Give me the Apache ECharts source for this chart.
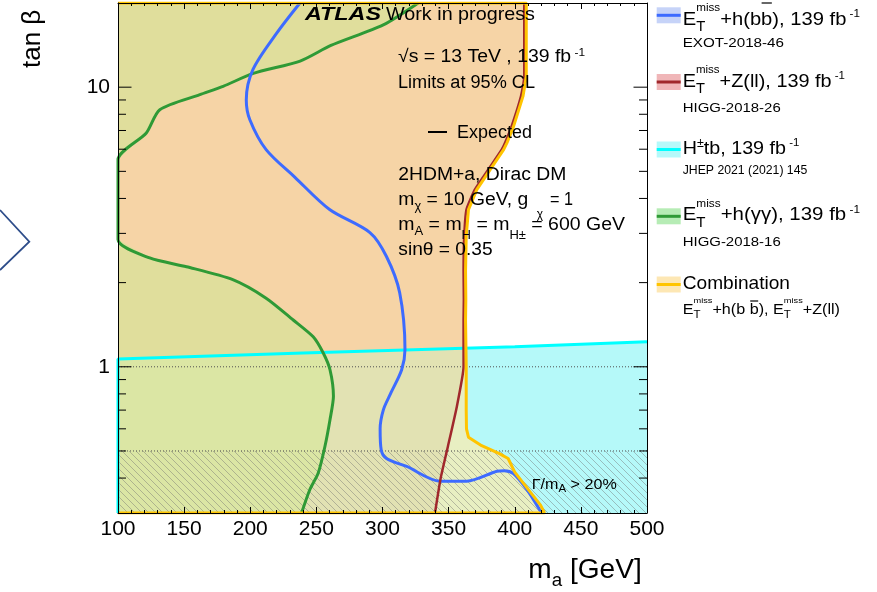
<!DOCTYPE html>
<html><head><meta charset="utf-8">
<script src="https://cdn.jsdelivr.net/npm/echarts@6/dist/echarts.min.js"></script>
<style>html,body{margin:0;padding:0;background:#fff}#c{width:877px;height:592px}</style>
</head><body><div id="c"></div>
<script>
// ---------------- data ----------------
const massRange = [100, 500];
const tanbRange = [0.3, 20];
const yMajorTicks = [1, 10];
const yMinorTicks = [0.4, 0.5, 0.6, 0.7, 0.8, 0.9, 2, 3, 4, 5, 6, 7, 8, 9];
const dottedTanb = [1, 0.5];
const widthLimitTanb = 0.5;

// Combination (E_T^miss+h(bb) , E_T^miss+Z(ll)) expected contour, top -> bottom
const comboMass = [408.7,408.7,406.2,399.1,394.1,391.6,381.4,371.3,365,363.3,362.8,363,362.8,363.3,363.3,363.5,365,375,388,395,400,410,419.5,422.5];
const comboTanb = [20,10.9,9.27,7.24,6.32,5.98,5.07,4.30,3.65,2.93,2.2,1.74,1.47,1.0,0.7,0.6,0.56,0.522,0.49,0.47,0.42,0.365,0.32,0.3];
// E_T^miss+Z(ll)
const zllMass = [407.2,407.2,404.7,397.6,392.6,390.1,379.9,369.8,363.5,361.8,361.3,361.5,361.3,361.3,356.2,349.5,344,339.7];
const zllTanb = [20,10.9,9.27,7.24,6.32,5.98,5.07,4.30,3.65,2.93,2.2,1.74,1.47,1.0,0.72,0.52,0.4,0.3];
// E_T^miss+h(bb)
const bbMass = [237.6,220,202,197,199.7,212,234,260,290.5,303,313,317,314.5,306,300.7,298.2,299,303,318.3,343.5,363.7,386.5,392,399,409.2,418,420.3];
const bbTanb = [20,15.6,11.55,9.0,7.65,5.98,4.75,3.65,3.02,2.48,1.84,1.15,0.976,0.8,0.703,0.6,0.505,0.47,0.44,0.39,0.39,0.423,0.425,0.415,0.364,0.313,0.3];
// E_T^miss+h(yy): upper and lower branches
const yyUpperMass = [327,300.6,261,237.7,202.3,179.5,161.9,131.6,121.4,100];
const yyUpperTanb = [20,16.7,14.1,12.4,11.2,10.07,9.40,8.31,6.86,5.5];
const yyLowerMass = [100,124,151.8,186.8,212,232.5,247.6,255.2,260.3,262.9,260.3,256.5,251.4,245.1,238.8];
const yyLowerTanb = [2.85,2.45,2.28,2.05,1.76,1.47,1.28,1.12,0.976,0.784,0.647,0.52,0.417,0.364,0.3];
// H+tb
const hpmMass = [100,240,400,500];
const hpmTanb = [1.066,1.12,1.18,1.23];

// ---------------- helpers ----------------
const FONT = '"Liberation Sans", Arial, Helvetica, sans-serif';
const zip = (a, b) => a.map((v, i) => [v, b[i]]);
const combo = zip(comboMass, comboTanb);
const zll = zip(zllMass, zllTanb);
const bb = zip(bbMass, bbTanb);
const yyUp = zip(yyUpperMass, yyUpperTanb);
const yyLo = zip(yyLowerMass, yyLowerTanb);
const hpm = zip(hpmMass, hpmTanb);
const [xMin, xMax] = massRange, [yMin, yMax] = tanbRange;
const L = Math.log10;

function logCyan(m) {
  for (let i = 0; i < hpm.length - 1; i++) {
    const a = hpm[i], b = hpm[i + 1];
    if (m <= b[0] || i === hpm.length - 2) {
      const f = (m - a[0]) / (b[0] - a[0]);
      return L(a[1]) + f * (L(b[1]) - L(a[1]));
    }
  }
}
// region left of a curve (given bottom->top) and below the H+tb line
function belowCyan(curve) {
  const pts = [[xMin, yMin]];
  let ix = xMin;
  for (let i = 0; i < curve.length; i++) {
    const p = curve[i];
    const d1 = L(p[1]) - logCyan(p[0]);
    if (d1 < 0) { pts.push(p); continue; }
    const q = curve[i - 1];
    const d0 = L(q[1]) - logCyan(q[0]);
    const f = d0 / (d0 - d1);
    ix = q[0] + f * (p[0] - q[0]);
    pts.push([ix, Math.pow(10, L(q[1]) + f * (L(p[1]) - L(q[1])))]);
    break;
  }
  for (let i = hpm.length - 1; i >= 0; i--) if (hpm[i][0] < ix) pts.push(hpm[i]);
  return pts;
}
const rev = a => a.slice().reverse();

const regionDefs = [
  { pts: [[xMin, yMax]].concat(combo, [[xMin, yMin]]), fill: '#f6d4a6' },
  { pts: [[xMin, yMax]].concat(yyUp), fill: '#e0de9c' },
  { pts: yyLo.concat([[xMin, yMin]]), fill: '#e0de9c' },
  { pts: [[xMin, yMin], [xMax, yMin]].concat(rev(hpm)), fill: '#b5f9f9' },
  { pts: belowCyan(rev(combo)), fill: '#e8efc2' },
  { pts: belowCyan(rev(zll)), fill: '#e2e2b3' },
  { pts: belowCyan(rev(yyLo)), fill: '#dbe6a4' }
];

const hatch = document.createElement('canvas');
hatch.width = 7; hatch.height = 7;
(function () { const g = hatch.getContext('2d'); g.strokeStyle = 'rgba(110,110,110,0.42)'; g.lineWidth = 1; g.beginPath(); g.moveTo(-1, -1); g.lineTo(8, 8); g.stroke(); })();

function polySeries(pts, fill, z) {
  return {
    type: 'custom', coordinateSystem: 'cartesian2d', data: [[xMin, 1]], z: z, silent: true,
    renderItem: (params, api) => ({ type: 'polygon', shape: { points: pts.map(p => api.coord(p)) }, style: { fill: fill, lineWidth: 0 } })
  };
}
function lineSeries(data, color, width, z, extra) {
  return Object.assign({ type: 'line', data: data, showSymbol: false, symbol: 'none', silent: true, z: z,
    lineStyle: { color: color, width: width }, animation: false }, extra || {});
}

// ---------------- text helpers ----------------
const mctx = document.createElement('canvas').getContext('2d');
function meas(t, s, w, st) { mctx.font = `${st || 'normal'} ${w || 'normal'} ${s}px ${FONT}`; return mctx.measureText(t).width; }
const els = [];
function T(x, base, text, s, k, w, st) {
  return { type: 'text', x: x, y: base - 0.35 * s, scaleX: k, z: 100, silent: true,
    style: { text: text, fontSize: s, fontFamily: FONT, fontWeight: w || 'normal', fontStyle: st || 'normal', fill: '#000', align: 'left', verticalAlign: 'middle' } };
}
function run(x0, base, pieces, target) {
  const widths = pieces.map(p => p.sup !== undefined ? Math.max(meas(p.sup, p.ss), meas(p.sub, p.bs)) : meas(p.t, p.s, p.w, p.st));
  const total = widths.reduce((a, b) => a + b, 0);
  const k = target ? target / total : 1;
  let cx = x0;
  pieces.forEach((p, i) => {
    if (p.sup !== undefined) {
      els.push(T(cx, base + p.supDy, p.sup, p.ss, k));
      els.push(T(cx, base + p.subDy, p.sub, p.bs, k));
    } else {
      els.push(T(cx, base + (p.dy || 0), p.t, p.s, k, p.w, p.st));
      if (p.over !== undefined) els.push({ type: 'line', z: 100, silent: true, shape: { x1: cx + 0.5, y1: base - p.over, x2: cx + widths[i] * k - 0.5, y2: base - p.over }, style: { stroke: '#000', lineWidth: 1.2 } });
    }
    cx += widths[i] * k;
  });
}
const ET = (s, ss, bs, supDy, subDy) => [{ t: 'E', s: s }, { sup: 'miss', sub: 'T', ss: ss, bs: bs, supDy: supDy, subDy: subDy }];

// ATLAS label and info block
run(305, 21.7, [{ t: 'ATLAS', s: 19, w: 'bold', st: 'italic' }], 76);
run(386, 21.7, [{ t: 'Work in progress', s: 19 }], 149);
run(398, 63, [{ t: '\u221As = 13 TeV , 139 fb', s: 18 }, { t: ' -1', s: 11, dy: -6 }], 187);
run(398, 89, [{ t: 'Limits at 95% CL', s: 18 }], 137);
els.push({ type: 'line', z: 100, silent: true, shape: { x1: 428, y1: 132, x2: 447, y2: 132 }, style: { stroke: '#000', lineWidth: 2 } });
run(457, 139, [{ t: 'Expected', s: 18 }], 75);
run(398.3, 181.7, [{ t: '2HDM+a, Dirac DM', s: 18 }], 168);
run(398.3, 206.7, [{ t: 'm', s: 18 }, { t: '\u03C7', s: 12, dy: 4 }, { t: ' = 10 GeV, g', s: 18 }], 130);
run(536.7, 219, [{ t: '\u03C7', s: 12 }]);
run(550, 206.7, [{ t: '= 1', s: 18 }], 23);
run(398.3, 231.7, [{ t: 'm', s: 18 }, { t: 'A', s: 12, dy: 4 }, { t: ' = m', s: 18 }, { t: 'H', s: 12, dy: 8 }, { t: ' = m', s: 18 }, { t: 'H\u00B1', s: 12, dy: 8 }, { t: ' = 600 GeV', s: 18 }], 226.7);
run(398.3, 256.7, [{ t: 'sin\u03B8 = 0.35', s: 18 }], 94.4);
run(531.7, 490, [{ t: '\u0393/m', s: 14 }, { t: 'A', s: 10, dy: 3 }, { t: ' > 20%', s: 14 }], 85);

// axis titles
run(528.3, 580, [{ t: 'm', s: 27 }, { t: 'a', s: 18, dy: 7 }, { t: ' [GeV]', s: 27 }], 113.4);
els.push({ type: 'text', x: 41.7 - 0.35 * 26, y: 68, rotation: Math.PI / 2, z: 100, silent: true,
  style: { text: 'tan \u03B2', fontSize: 26, fontFamily: FONT, fill: '#000', align: 'left', verticalAlign: 'middle' } });

// legend
const legendRows = [
  { y0: 7.3, fill: '#c6d3f8', line: '#3d6bff' },
  { y0: 74, fill: '#f0b6b8', line: '#a0282c' },
  { y0: 141.5, fill: '#b5f9fa', line: '#00ffff' },
  { y0: 208.3, fill: '#b6ecb5', line: '#2f9a36' },
  { y0: 276.5, fill: '#fde7b4', line: '#ffc400' }
];
legendRows.forEach(r => {
  els.push({ type: 'rect', z: 100, silent: true, shape: { x: 656.7, y: r.y0, width: 24, height: 16 }, style: { fill: r.fill } });
  els.push({ type: 'line', z: 101, silent: true, shape: { x1: 656.7, y1: r.y0 + 8, x2: 680.7, y2: r.y0 + 8 }, style: { stroke: r.line, lineWidth: 3 } });
});
const LX = 682.7;
run(LX, 26, ET(19, 11, 14, -14, 6).concat([{ t: '+h(b', s: 19 }, { t: 'b', s: 19, over: 23 }, { t: '), 139 fb', s: 19 }, { t: ' -1', s: 11, dy: -8 }]), 177.3);
run(LX, 48, [{ t: 'EXOT-2018-46', s: 13 }], 101.3);
run(LX, 88.3, ET(19, 11, 14, -14, 6).concat([{ t: '+Z(ll), 139 fb', s: 19 }, { t: ' -1', s: 11, dy: -8 }]), 162.3);
run(LX, 113.3, [{ t: 'HIGG-2018-26', s: 13 }], 98);
run(LX, 155, [{ t: 'H', s: 19 }, { t: '\u00B1', s: 12, dy: -7 }, { t: 'tb, 139 fb', s: 19 }, { t: ' -1', s: 11, dy: -8 }], 116.6);
run(LX, 175, [{ t: 'JHEP 2021 (2021) 145', s: 13 }], 124.6);
run(LX, 221.7, ET(19, 11, 14, -14, 6).concat([{ t: '+h(\u03B3\u03B3), 139 fb', s: 19 }, { t: ' -1', s: 11, dy: -8 }]), 177.3);
run(LX, 246.7, [{ t: 'HIGG-2018-16', s: 13 }], 98);
run(LX, 290, [{ t: 'Combination', s: 19 }], 107.3);
run(LX, 315, ET(14, 8, 10, -11, 4).concat([{ t: '+h(b ', s: 14 }, { t: 'b', s: 14, over: 14 }, { t: '), ', s: 14 }], ET(14, 8, 10, -11, 4), [{ t: '+Z(ll)', s: 14 }]), 157.3);

// slide chevron
els.push({ type: 'polyline', z: 100, silent: true, shape: { points: [[0, 210], [29.3, 241.7], [0, 270]] }, style: { stroke: '#2e4d8a', lineWidth: 1.8, fill: null } });

// ---------------- chart ----------------
const chart = echarts.init(document.getElementById('c'), null, { renderer: 'canvas' });
const axisCommon = {
  min: xMin, max: xMax, interval: 50, splitLine: { show: false }, z: 5,
  axisLine: { show: true, onZero: false, lineStyle: { color: '#000', width: 1 } },
  axisTick: { show: true, inside: true, length: 6, lineStyle: { color: '#000', width: 1 } },
  minorTick: { show: true, splitNumber: 5, length: 3, lineStyle: { color: '#000', width: 1 } }
};
const series = regionDefs.map(r => polySeries(r.pts, r.fill, 1));
series.push({
  type: 'custom', coordinateSystem: 'cartesian2d', data: [[xMin, 1]], z: 1, silent: true,
  renderItem: (params, api) => {
    const pts = [[xMin, yMin], [xMax, yMin], [xMax, widthLimitTanb], [xMin, widthLimitTanb]].map(p => api.coord(p));
    return { type: 'polygon', shape: { points: pts }, style: { fill: { image: hatch, repeat: 'repeat' }, lineWidth: 0 } };
  }
});
dottedTanb.forEach(v => series.push(lineSeries([[xMin, v], [xMax, v]], '#555', 1, 2, { lineStyle: { color: '#505050', width: 1, type: [1, 2] } })));
series.push(lineSeries([[xMin, yMin]].concat(hpm), '#00ffff', 3, 3));
series.push(lineSeries(yyUp.concat(yyLo), '#2f9a36', 3, 3, { smooth: 0.25 }));
series.push(lineSeries(bb, '#3d6bff', 3, 3, { smooth: 0.3 }));
series.push(lineSeries(zll, '#a0282c', 2.5, 3, { smooth: 0.15 }));
series.push(lineSeries([[xMin, yMax]].concat(combo, [[xMin, yMin]]), '#ffc400', 3, 4));
// y-axis ticks on both sides (log minor ticks)
series.push({
  type: 'custom', coordinateSystem: 'cartesian2d', data: [[xMin, 1]], z: 6, silent: true,
  renderItem: (params, api) => {
    const children = [];
    const add = (v, len) => {
      const a = api.coord([xMin, v]), b = api.coord([xMax, v]);
      children.push({ type: 'line', shape: { x1: a[0], y1: a[1], x2: a[0] + len, y2: a[1] }, style: { stroke: '#000', lineWidth: 1 } });
      children.push({ type: 'line', shape: { x1: b[0], y1: b[1], x2: b[0] - len, y2: b[1] }, style: { stroke: '#000', lineWidth: 1 } });
    };
    yMajorTicks.forEach(v => add(v, 13.5));
    yMinorTicks.forEach(v => add(v, 8));
    return { type: 'group', children: children };
  }
});

chart.setOption({
  animation: false,
  grid: { left: 118, right: 230, top: 3, bottom: 79, containLabel: false, outerBoundsMode: 'none' },
  xAxis: [
    Object.assign({ type: 'value', position: 'bottom', axisLabel: { fontSize: 21, color: '#000', fontFamily: FONT, margin: 6 } }, axisCommon),
    Object.assign({ type: 'value', position: 'top', axisLabel: { show: false } }, axisCommon)
  ],
  yAxis: [
    { type: 'log', logBase: 10, min: yMin, max: yMax, position: 'left', z: 5, splitLine: { show: false },
      axisLine: { show: true, onZero: false, lineStyle: { color: '#000', width: 1 } }, axisTick: { show: false },
      axisLabel: { fontSize: 21, color: '#000', fontFamily: FONT, margin: 8, showMinLabel: false, showMaxLabel: false,
        formatter: v => (yMajorTicks.some(t => Math.abs(t - v) < 1e-6) ? String(Math.round(v)) : '') } },
    { type: 'log', logBase: 10, min: yMin, max: yMax, position: 'right', z: 5, splitLine: { show: false },
      axisLine: { show: true, onZero: false, lineStyle: { color: '#000', width: 1 } }, axisTick: { show: false }, axisLabel: { show: false } }
  ],
  series: series,
  graphic: { elements: els }
});
</script></body></html>
